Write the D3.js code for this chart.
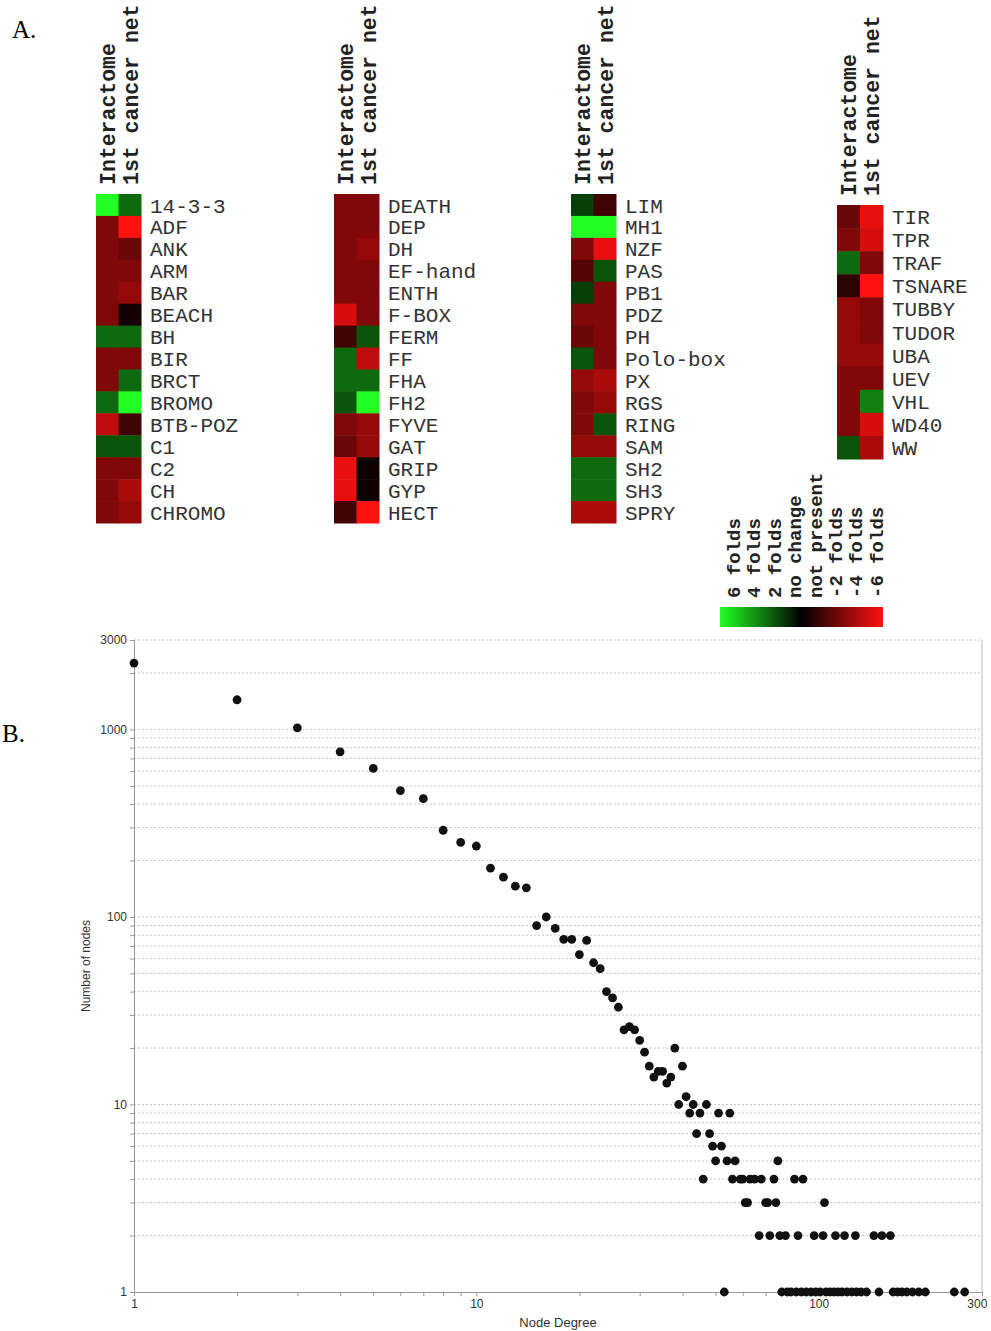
<!DOCTYPE html>
<html>
<head>
<meta charset="utf-8">
<script src="https://cdn.jsdelivr.net/npm/d3@7"></script>
<style>
  body { margin: 0; background: #fff; }
  svg { display: block; }
</style>
</head>
<body>
<svg id="chart" width="991" height="1331"></svg>
<script>
// ---- A. heatmap data (fold change, + = green, - = red) ----
var domains1 = ['14-3-3', 'ADF', 'ANK', 'ARM', 'BAR', 'BEACH', 'BH', 'BIR', 'BRCT', 'BROMO', 'BTB-POZ', 'C1', 'C2', 'CH', 'CHROMO']
var interactome1 = [6, -3, -3, -3, -3, -3, 2.5, -3, -3, 2.5, -4.5, 2, -3, -3, -3]
var cancer1 = [2.5, -6, -2.5, -3, -3.5, -0.5, 2.5, -3, 2.5, 6, -1.5, 2, -3, -4, -3.5]

var domains2 = ['DEATH', 'DEP', 'DH', 'EF-hand', 'ENTH', 'F-BOX', 'FERM', 'FF', 'FHA', 'FH2', 'FYVE', 'GAT', 'GRIP', 'GYP', 'HECT']
var interactome2 = [-3, -3, -3, -3, -3, -5, -1.5, 2.5, 2.5, 2, -3, -2.5, -5.5, -5.5, -1.5]
var cancer2 = [-3, -3, -3.5, -3, -3, -3, 2, -4.5, 2.5, 6, -3.5, -3.5, -0.3, -0.3, -6]

var domains3 = ['LIM', 'MH1', 'NZF', 'PAS', 'PB1', 'PDZ', 'PH', 'Polo-box', 'PX', 'RGS', 'RING', 'SAM', 'SH2', 'SH3', 'SPRY']
var interactome3 = [1.5, 6, -3, -2, 1.5, -3, -2.5, 2, -3.5, -3, -3, -3.5, 2.5, 2.5, -4]
var cancer3 = [-1.5, 6, -5.5, 2, -3, -3, -3, -3, -4, -3.5, 2, -3.5, 2.5, 2.5, -4]

var domains4 = ['TIR', 'TPR', 'TRAF', 'TSNARE', 'TUBBY', 'TUDOR', 'UBA', 'UEV', 'VHL', 'WD40', 'WW']
var interactome4 = [-2.5, -3, 2.5, -1, -3.5, -3.5, -3.5, -3, -3, -3, 2]
var cancer4 = [-5.5, -5, -3, -6, -3, -3, -3.5, -3, 3, -5, -4]

var columns = ['Interactome', '1st cancer net']
var legendLabels = ['6 folds', '4 folds', '2 folds', 'no change', 'not present', '-2 folds', '-4 folds', '-6 folds']

// ---- B. degree distribution ----
var degree = [1, 2, 3, 4, 5, 6, 7, 8, 9, 10, 11, 12, 13, 14, 15, 16, 17, 18, 19, 20,
  21, 22, 23, 24, 25, 26, 27, 28, 29, 30, 31, 32, 33, 34, 35, 36, 37, 38, 39, 40,
  41, 42, 43, 44, 45, 46, 47, 48, 49, 50, 51, 52, 54, 55, 57, 76,
  56, 59, 60, 63, 65, 68, 74, 85, 90,
  61, 62, 70, 71, 75, 104,
  67, 72, 77, 80, 87, 97, 103, 112, 119, 128, 145, 153, 162,
  53, 78, 81, 83, 86, 89, 92, 95, 98, 101, 105, 108, 111, 114, 117, 121, 125, 129, 133, 138,
  150, 165, 170, 175, 181, 188, 196, 205, 249, 267]
var nodes = [2260, 1440, 1020, 760, 620, 472, 428, 290, 250, 239, 182, 163, 146, 143, 90, 100, 87, 76, 76, 63,
  75, 57, 53, 40, 37, 33, 25, 26, 25, 22, 19, 16, 14, 15, 15, 13, 14, 20, 10, 16,
  11, 9, 10, 7, 9, 4, 10, 7, 6, 5, 9, 6, 5, 9, 5, 5,
  4, 4, 4, 4, 4, 4, 4, 4, 4,
  3, 3, 3, 3, 3, 3,
  2, 2, 2, 2, 2, 2, 2, 2, 2, 2, 2, 2, 2,
  1, 1, 1, 1, 1, 1, 1, 1, 1, 1, 1, 1, 1, 1, 1, 1, 1, 1, 1, 1,
  1, 1, 1, 1, 1, 1, 1, 1, 1, 1]
var yTickLabels = [1, 10, 100, 1000, 3000]
var xTickLabels = [1, 10, 100, 300]

var svg = d3.select('#chart')
var mono = '"Liberation Mono", "Courier New", monospace'
var sans = '"Liberation Sans", Arial, sans-serif'

svg.append('rect').attr('width', 991).attr('height', 1331).attr('fill', '#fff')

var color = d3.scaleLinear()
    .domain([-6, 0, 6])
    .range(['#ff1010', '#000000', '#22ff22'])

svg.append('text').attr('x', 12).attr('y', 38)
    .style('font-family', '"Liberation Serif", serif').style('font-size', '25px')
    .text('A.')
svg.append('text').attr('x', 2).attr('y', 742)
    .style('font-family', '"Liberation Serif", serif').style('font-size', '25px')
    .text('B.')

function drawBlock (labels, colA, colB, left, top, w, h) {
  var g = svg.append('g')
  var xb = d3.scaleBand().domain(columns).range([left, left + w])
  var yb = d3.scaleBand().domain(labels).range([top, top + h])

  labels.forEach(function (name, i) {
    g.append('rect')
        .attr('x', xb(columns[0])).attr('y', yb(name))
        .attr('width', xb.bandwidth() + 0.5).attr('height', yb.bandwidth() + 0.5)
        .attr('fill', color(colA[i]))
    g.append('rect')
        .attr('x', xb(columns[1])).attr('y', yb(name))
        .attr('width', xb.bandwidth() + 0.5).attr('height', yb.bandwidth() + 0.5)
        .attr('fill', color(colB[i]))
  })

  g.selectAll('text.row')
    .data(labels)
    .enter().append('text')
      .attr('class', 'row')
      .attr('x', left + w + 9)
      .attr('y', function (d) { return yb(d) + yb.bandwidth() / 2 })
      .attr('dy', '0.36em')
      .style('font-family', mono)
      .style('font-size', '21px')
      .attr('fill', '#333')
      .text(function (d) { return d })

  g.selectAll('text.col')
    .data(columns)
    .enter().append('text')
      .attr('class', 'col')
      .attr('transform', function (d) {
        return 'translate(' + (xb(d) + xb.bandwidth() / 2) + ',' + (top - 9) + ') rotate(-90)'
      })
      .attr('dy', '0.36em')
      .style('font-family', mono)
      .style('font-size', '21.5px')
      .style('font-weight', 'bold')
      .attr('fill', '#222')
      .text(function (d) { return d })
}

drawBlock(domains1, interactome1, cancer1, 96, 194, 45, 329)
drawBlock(domains2, interactome2, cancer2, 334, 194, 45, 329)
drawBlock(domains3, interactome3, cancer3, 571, 194, 45, 329)
drawBlock(domains4, interactome4, cancer4, 837, 205, 46, 254)

// legend
var grad = svg.append('defs').append('linearGradient').attr('id', 'foldGrad')
d3.range(6, -6.1, -1).forEach(function (v) {
  grad.append('stop').attr('offset', ((6 - v) / 12 * 100) + '%').attr('stop-color', color(v))
})
svg.append('rect').attr('x', 720).attr('y', 607).attr('width', 163).attr('height', 20)
    .attr('fill', 'url(#foldGrad)')

var lx = d3.scalePoint().domain(legendLabels).range([733, 876])
svg.selectAll('text.leg')
  .data(legendLabels)
  .enter().append('text')
    .attr('class', 'leg')
    .attr('transform', function (d) { return 'translate(' + lx(d) + ',598) rotate(-90)' })
    .attr('dy', '0.36em')
    .style('font-family', mono)
    .style('font-size', '19px')
    .style('font-weight', 'bold')
    .attr('fill', '#222')
    .text(function (d) { return d })

// ---- B. scatter ----
var x = d3.scaleLog().domain([1, 300]).range([134, 982])
var y = d3.scaleLog().domain([1, 3000]).range([1292, 640])

svg.append('g')
    .selectAll('line')
    .data(y.ticks().filter(function (d) { return d > 1 }))
    .enter().append('line')
      .attr('x1', 134).attr('x2', 982)
      .attr('y1', function (d) { return y(d) }).attr('y2', function (d) { return y(d) })
      .attr('stroke', '#c8c8c8')
      .attr('stroke-dasharray', '2,2')

svg.append('line').attr('x1', 982).attr('x2', 982).attr('y1', 640).attr('y2', 1292)
    .attr('stroke', '#bbb')

var yAxis = svg.append('g')
    .attr('transform', 'translate(134,0)')
    .call(d3.axisLeft(y).tickValues(y.ticks()).tickSize(4).tickSizeOuter(0)
      .tickFormat(function (d) { return yTickLabels.indexOf(d) >= 0 ? d : '' }))
var xAxis = svg.append('g')
    .attr('transform', 'translate(0,1292)')
    .call(d3.axisBottom(x).tickValues(x.ticks()).tickSize(4).tickSizeOuter(0)
      .tickFormat(function (d) { return xTickLabels.indexOf(d) >= 0 ? d : '' }))

;[xAxis, yAxis].forEach(function (a) {
  a.selectAll('path, line').attr('stroke', '#999')
  a.selectAll('text').style('font-family', sans).style('font-size', '12px').attr('fill', '#333')
})
// keep the last label inside the picture
xAxis.selectAll('.tick text')
    .filter(function (d) { return d === 300 })
    .attr('text-anchor', 'end').attr('dx', '0.4em')

svg.append('text')
    .attr('x', 558).attr('y', 1327)
    .attr('text-anchor', 'middle')
    .style('font-family', sans).style('font-size', '13px').attr('fill', '#333')
    .text('Node Degree')
svg.append('text')
    .attr('transform', 'translate(90,966) rotate(-90)')
    .attr('text-anchor', 'middle')
    .style('font-family', sans).style('font-size', '12px').attr('fill', '#333')
    .text('Number of nodes')

svg.append('g')
    .selectAll('circle')
    .data(degree)
    .enter().append('circle')
      .attr('cx', function (d) { return x(d) })
      .attr('cy', function (d, i) { return y(nodes[i]) })
      .attr('r', 4.4)
      .attr('fill', '#111')
</script>
</body>
</html>
